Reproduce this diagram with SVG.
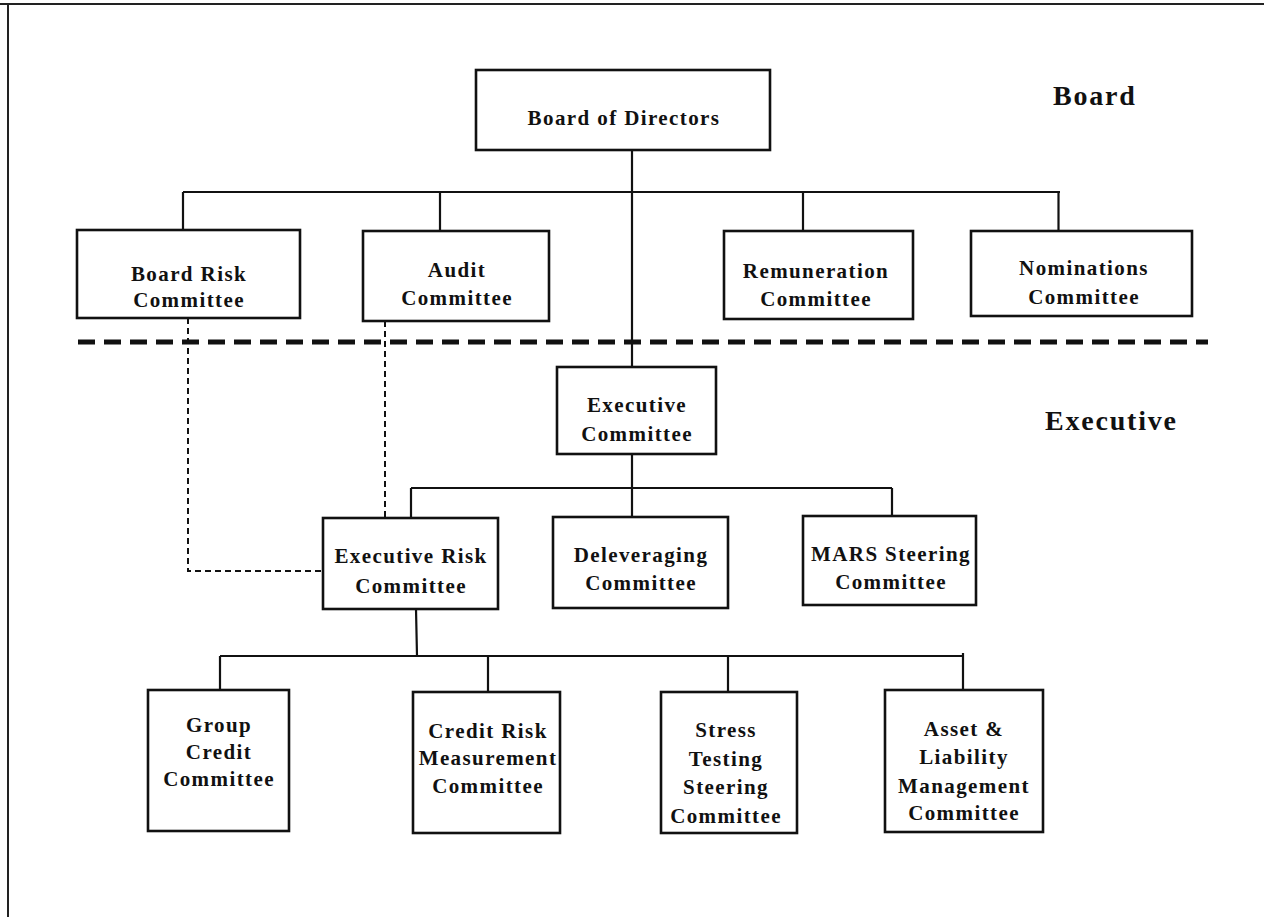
<svg xmlns="http://www.w3.org/2000/svg" width="1264" height="917" viewBox="0 0 1264 917">
<style>
.box{fill:#fff;stroke:#111;stroke-width:2.6}
.t{font-family:"Liberation Serif","Times New Roman",serif;font-weight:bold;font-size:21px;letter-spacing:1.4px;fill:#111;text-anchor:middle}
.lbl{font-family:"Liberation Serif","Times New Roman",serif;font-weight:bold;font-size:28px;letter-spacing:1.8px;fill:#111}
.c{fill:none;stroke:#111;stroke-width:2.2}
.d{fill:none;stroke:#111;stroke-width:2;stroke-dasharray:6 4}
.sep{fill:none;stroke:#111;stroke-width:5;stroke-dasharray:17 9}
.frame{fill:none;stroke:#222;stroke-width:2}
</style>
<rect width="1264" height="917" fill="#fff"/>
<path class="frame" d="M0 4H1264M8 4V917"/>
<g id="connectors">
<path class="c" d="M632 150V367"/>
<path class="c" d="M183 192H1060M183 192V230M440 192V231M803 192V231M1058.5 192V231"/>
<path class="c" d="M632 454V488M411 488H892M411 488V518M632 488V517M892 488V516"/>
<path class="c" d="M416 609L417 656M220 656H963M220 656V690M488 656V692M728 656V692M963 653V690"/>
<path class="d" d="M385 321V518M188 318V571H323"/>
<path class="sep" d="M78 342H1208"/>
</g>
<g id="board-of-directors"><rect class="box" x="476" y="70" width="294" height="80"/><text class="t" x="624" y="125">Board of Directors</text></g>
<g id="board-risk-committee"><rect class="box" x="77" y="230" width="223" height="88"/><text class="t" x="189" y="281">Board Risk</text><text class="t" x="189" y="307">Committee</text></g>
<g id="audit-committee"><rect class="box" x="363" y="231" width="186" height="90"/><text class="t" x="457" y="277">Audit</text><text class="t" x="457" y="305">Committee</text></g>
<g id="remuneration-committee"><rect class="box" x="724" y="231" width="189" height="88"/><text class="t" x="816" y="278">Remuneration</text><text class="t" x="816" y="306">Committee</text></g>
<g id="nominations-committee"><rect class="box" x="971" y="231" width="221" height="85"/><text class="t" x="1084" y="275">Nominations</text><text class="t" x="1084" y="304">Committee</text></g>
<g id="executive-committee"><rect class="box" x="557" y="367" width="159" height="87"/><text class="t" x="637" y="412">Executive</text><text class="t" x="637" y="441">Committee</text></g>
<g id="executive-risk-committee"><rect class="box" x="323" y="518" width="175" height="91"/><text class="t" x="411" y="563">Executive Risk</text><text class="t" x="411" y="593">Committee</text></g>
<g id="deleveraging-committee"><rect class="box" x="553" y="517" width="175" height="91"/><text class="t" x="641" y="562">Deleveraging</text><text class="t" x="641" y="590">Committee</text></g>
<g id="mars-steering-committee"><rect class="box" x="803" y="516" width="173" height="89"/><text class="t" x="891" y="561">MARS Steering</text><text class="t" x="891" y="589">Committee</text></g>
<g id="group-credit-committee"><rect class="box" x="148" y="690" width="141" height="141"/><text class="t" x="219" y="732">Group</text><text class="t" x="219" y="759">Credit</text><text class="t" x="219" y="786">Committee</text></g>
<g id="credit-risk-measurement-committee"><rect class="box" x="413" y="692" width="147" height="141"/><text class="t" x="488" y="738">Credit Risk</text><text class="t" x="488" y="765">Measurement</text><text class="t" x="488" y="793">Committee</text></g>
<g id="stress-testing-steering-committee"><rect class="box" x="661" y="692" width="136" height="141"/><text class="t" x="726" y="737">Stress</text><text class="t" x="726" y="766">Testing</text><text class="t" x="726" y="794">Steering</text><text class="t" x="726" y="823">Committee</text></g>
<g id="asset-liability-management-committee"><rect class="box" x="885" y="690" width="158" height="142"/><text class="t" x="964" y="736">Asset &amp;</text><text class="t" x="964" y="764">Liability</text><text class="t" x="964" y="793">Management</text><text class="t" x="964" y="820">Committee</text></g>
<text class="lbl" x="1053" y="105">Board</text>
<text class="lbl" x="1045" y="430">Executive</text>
</svg>
